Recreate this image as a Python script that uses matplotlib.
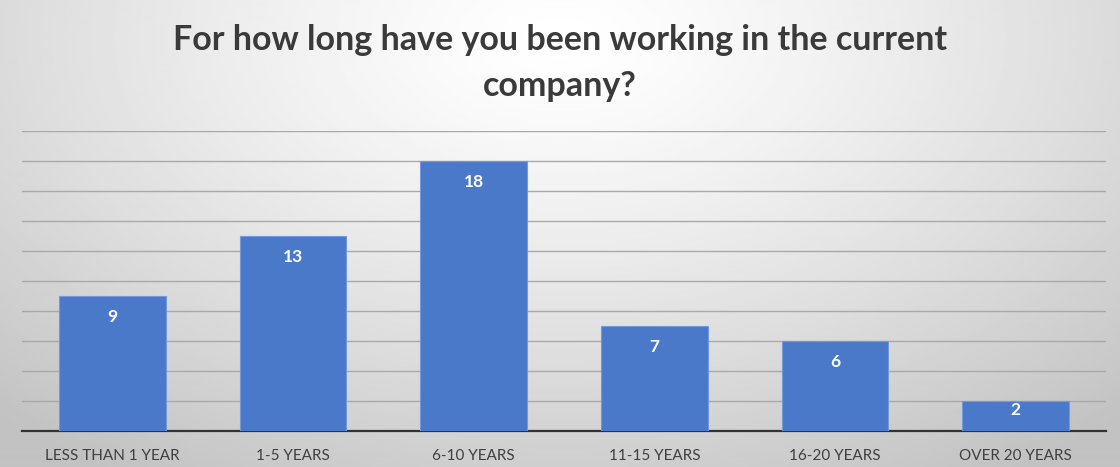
import numpy as np
import matplotlib.pyplot as plt

categories = ["LESS THAN 1 YEAR", "1-5 YEARS", "6-10 YEARS",
              "11-15 YEARS", "16-20 YEARS", "OVER 20 YEARS"]
counts = [9, 13, 18, 7, 6, 2]

plt.rcParams['font.family'] = ['Lato', 'DejaVu Sans']

fig = plt.figure(figsize=(11.2, 4.67), dpi=100)

# radial grey background, lightest near the title
bg = fig.add_axes([0, 0, 1, 1])
gx, gy = np.meshgrid(np.linspace(0, 1, 560), np.linspace(0, 1, 234))
r = np.sqrt(((gx - 0.5) / 0.75) ** 2 + ((gy - 0.08) / 1.1) ** 2)
shade = 1.0 - 0.24 * np.clip(r, 0, 1) ** 1.3
bg.imshow(shade, cmap='gray', vmin=0, vmax=1, aspect='auto',
          extent=[0, 1, 1, 0], interpolation='bilinear')
bg.axis('off')

ax = fig.add_axes([22 / 1120, 1 - 431 / 467, (1106 - 22) / 1120, 300 / 467])
ax.patch.set_alpha(0)
x = np.arange(len(categories))
bars = ax.bar(x, counts, width=0.59, color='#4b79ca', edgecolor='#7399dc',
              linewidth=0.8, zorder=3)
# value labels just inside the top of each bar
for xi, v in zip(x, counts):
    ax.text(xi, v - min(1.4, 0.3 * v), str(v), ha='center', va='center',
            color='white', fontsize=12.5, fontweight='bold', zorder=4)

ax.set_xlim(-0.5, len(categories) - 0.5)
ax.set_ylim(0, 20)
ax.set_yticks(np.arange(2, 21, 2))
ax.yaxis.grid(True, color='#a9a9a9', linewidth=1.0, zorder=1)
ax.set_axisbelow(True)
ax.tick_params(axis='y', left=False, labelleft=False)
ax.tick_params(axis='x', length=0, pad=13, labelsize=11, labelcolor='#404040')
ax.set_xticks(x)
ax.set_xticklabels(categories)
for s in ['top', 'right', 'left']:
    ax.spines[s].set_visible(False)
ax.spines['bottom'].set_color('#333333')
ax.spines['bottom'].set_linewidth(1.6)

fig.text(0.5, 1 - 63 / 467, "For how long have you been working in the current\ncompany?",
         ha='center', va='center', fontsize=24.5, fontweight='bold',
         color='#3a3a3a', linespacing=1.5)

fig.savefig('out.png', dpi=100)
